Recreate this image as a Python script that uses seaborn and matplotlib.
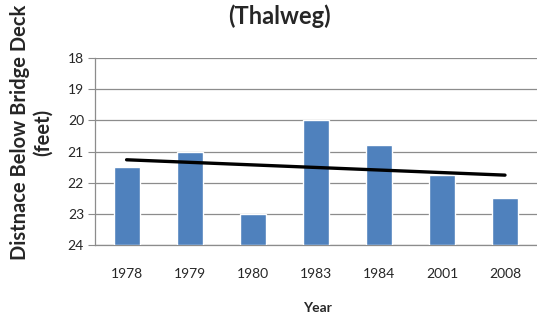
import numpy as np
import pandas as pd
import matplotlib
matplotlib.use('Agg')
import matplotlib.pyplot as plt
import seaborn as sns

# data
years = ['1978', '1979', '1980', '1983', '1984', '2001', '2008']
depth = [21.5, 21.0, 23.0, 20.0, 20.8, 21.75, 22.5]
base = 24

sns.set_style('white')
plt.rcParams['font.family'] = ['Lato', 'DejaVu Sans']

df = pd.DataFrame({'year': years, 'depth': depth})
df['height'] = df['depth'] - base

fig = plt.figure(figsize=(5.37, 3.23), dpi=100)
ax = fig.add_axes([0.177, 0.241, 0.828, 0.579])

sns.barplot(data=df, x='year', y='height', bottom=base, color='#4F81BD',
            saturation=1, width=0.41, ax=ax, zorder=3)

# linear trendline like Excel
xs = np.arange(len(years))
k, b = np.polyfit(xs, depth, 1)
ax.plot(xs, k * xs + b, color='black', lw=2.4, zorder=4, solid_capstyle='round')

ax.set_ylim(24, 18)
ax.set_xlim(-0.5, 6.55)
ax.set_yticks(range(18, 25))
ax.yaxis.grid(True, color='#8c8c8c', lw=0.9, zorder=0)
ax.set_axisbelow(True)
for s in ['top', 'right']:
    ax.spines[s].set_visible(False)
for s in ['left', 'bottom']:
    ax.spines[s].set_color('#8c8c8c')
    ax.spines[s].set_linewidth(0.9)
ax.tick_params(axis='y', left=True, length=5, color='#8c8c8c', labelsize=10, pad=3)
ax.tick_params(axis='x', bottom=False, labelsize=10, pad=13)
ax.set_xlabel('Year', fontsize=10, fontweight='bold', labelpad=16)
ax.set_ylabel('')

fig.text(0.058, 0.59, 'Distnace Below Bridge Deck\n(feet)', rotation=90,
         ha='center', va='center', fontsize=14.5, fontweight='bold',
         linespacing=1.2)
fig.text(0.52, 0.95, '(Thalweg)', ha='center', va='center', fontsize=17,
         fontweight='bold')

fig.savefig('out.png', dpi=100)
